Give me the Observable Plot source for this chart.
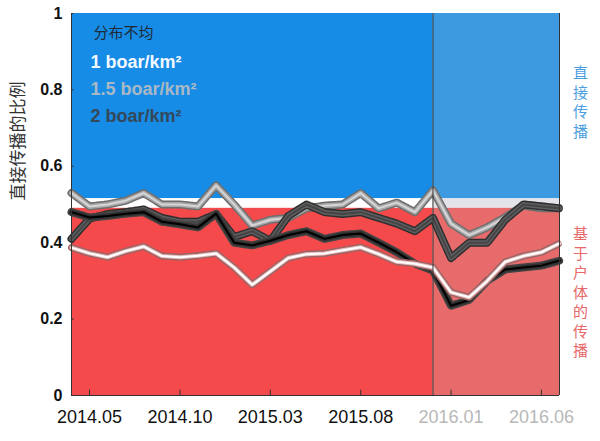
<!DOCTYPE html>
<html>
<head>
<meta charset="utf-8">
<script src="https://cdn.jsdelivr.net/npm/d3@7"></script>
<script src="https://cdn.jsdelivr.net/npm/@observablehq/plot@0.6"></script>
<style>
  html, body { margin: 0; padding: 0; background: #fff; }
  #chart { width: 600px; height: 441px; }
</style>
</head>
<body>
<div id="chart"></div>
<script>
// ---- data ----
const months = ["2014.04","2014.05","2014.06","2014.07","2014.08","2014.09","2014.10","2014.11","2014.12",
  "2015.01","2015.02","2015.03","2015.04","2015.05","2015.06","2015.07","2015.08","2015.09","2015.10","2015.11","2015.12",
  "2016.01","2016.02","2016.03","2016.04","2016.05","2016.06","2016.07"];
const xTickMonths = ["2014.05","2014.10","2015.03","2015.08","2016.01","2016.06"];
const yTicks = [0, 0.2, 0.4, 0.6, 0.8, 1];
const splitMonth = "2015.12";
const bandLow = 0.49;   // red / white boundary
const bandHigh = 0.515; // white / blue boundary

// 1 boar/km2 (white)
const lineWhite = [0.387,0.372,0.362,0.378,0.390,0.365,0.362,0.366,0.372,0.335,0.290,0.325,0.360,0.370,
  0.372,0.380,0.388,0.370,0.350,0.345,0.335,0.270,0.257,0.300,0.350,0.365,0.375,0.398];
// 1.5 boar/km2 (light grey)
const lineLightGray = [0.530,0.495,0.500,0.510,0.530,0.500,0.500,0.495,0.550,0.500,0.445,0.460,0.465,0.490,
  0.497,0.500,0.530,0.490,0.505,0.480,0.537,0.450,0.420,0.440,0.467,0.497,0.490,0.490];
// 2 boar/km2 (dark grey)
const lineDarkGray = [0.410,0.463,0.475,0.480,0.487,0.465,0.455,0.455,0.475,0.415,0.430,0.405,0.470,0.500,
  0.480,0.475,0.480,0.465,0.450,0.430,0.465,0.360,0.400,0.400,0.460,0.500,0.495,0.490];
// 2 boar/km2 (black)
const lineBlack = [0.480,0.466,0.470,0.476,0.480,0.455,0.448,0.440,0.476,0.400,0.393,0.405,0.420,0.430,
  0.410,0.420,0.424,0.400,0.375,0.345,0.327,0.235,0.250,0.300,0.330,0.335,0.340,0.353];

const legendTitle = "分布不均";
const legendLabels = ["1 boar/km²", "1.5 boar/km²", "2 boar/km²"];
const yLabel = "直接传播的比例";
const rightTop = "直接传播";
const rightBottom = "基于户体的传播";

// ---- helpers ----
const mi = m => months.indexOf(m);
const last = months.length - 1;
const split = mi(splitMonth);
const rows = vals => vals.map((v, i) => ({i, v}));

function band(vals, edge, fill, core, w) {
  const r = rows(vals);
  return [
    Plot.line(r, {x: "i", y: "v", stroke: edge, strokeWidth: w + 3, strokeDasharray: "1,1.4", strokeLinejoin: "round"}),
    Plot.line(r, {x: "i", y: "v", stroke: fill, strokeWidth: w, strokeLinejoin: "round", strokeOpacity: 0.85}),
    Plot.line(r, {x: "i", y: "v", stroke: core, strokeWidth: 2, strokeLinejoin: "round"})
  ];
}

const font = "Liberation Sans, Arial, sans-serif";
const cjk = "Noto Sans CJK SC, sans-serif";

const chart = Plot.plot({
  width: 600,
  height: 441,
  marginLeft: 71,
  marginRight: 41,
  marginTop: 13,
  marginBottom: 46,
  style: {fontFamily: font, background: "#fff", overflow: "visible"},
  x: {domain: [0, last]},
  y: {domain: [0, 1]},
  marks: [
    // background zones, left period
    Plot.rect([0], {x1: 0, x2: split, y1: bandHigh, y2: 1, fill: "#168ce6"}),
    Plot.rect([0], {x1: 0, x2: split, y1: bandLow, y2: bandHigh, fill: "#ffffff"}),
    Plot.rect([0], {x1: 0, x2: split, y1: 0, y2: bandLow, fill: "#f54a4b"}),
    // right period
    Plot.rect([0], {x1: split, x2: last, y1: bandHigh, y2: 1, fill: "#3d9ae0"}),
    Plot.rect([0], {x1: split, x2: last, y1: bandLow, y2: bandHigh, fill: "#e3e3e9"}),
    Plot.rect([0], {x1: split, x2: last, y1: 0, y2: bandLow, fill: "#e86b6c"}),
    // lines
    ...band(lineLightGray, "#6e6e6e", "#b2b2b4", "#d6d6d6", 5),
    ...band(lineDarkGray, "#2e2e2e", "#66666a", "#454545", 5),
    ...band(lineBlack, "#444", "#2c2c2c", "#000", 5),
    ...band(lineWhite, "#9c6464", "#f2cccc", "#ffffff", 4),
    // divider and frame
    Plot.ruleX([split], {stroke: "#333", strokeWidth: 1}),
    Plot.ruleX([0, last], {stroke: "#333", strokeWidth: 1}),
    Plot.ruleY([0], {stroke: "#333", strokeWidth: 1}),
    // inside tick marks
    Plot.ruleX(xTickMonths.map(mi), {x: d => d, y1: 0, y2: 0.014, stroke: "#333"}),
    Plot.ruleY(yTicks, {y: d => d, x1: 0, x2: 0.15, stroke: "#333"}),
    // axes
    Plot.axisY({ticks: yTicks, tickFormat: d => String(d), tickSize: 0, tickPadding: 9,
      fontSize: 16, fontWeight: "bold", fill: "#111", label: null}),
    Plot.axisX({ticks: xTickMonths.slice(0, 4).map(mi), tickFormat: d => months[d], tickSize: 0, tickPadding: 15,
      fontSize: 18, fill: "#111", label: null}),
    Plot.axisX({ticks: xTickMonths.slice(4).map(mi), tickFormat: d => months[d], tickSize: 0, tickPadding: 15,
      fontSize: 18, fill: "#b8b8b8", label: null}),
    // y label
    Plot.text([yLabel], {frameAnchor: "left", dx: -53, dy: -4, rotate: -90, fontSize: 17,
      fontFamily: cjk, fill: "#333"}),
    // legend
    Plot.text([legendTitle], {frameAnchor: "top-left", dx: 22, dy: 20, textAnchor: "start", lineAnchor: "middle",
      fontSize: 15, fontFamily: cjk, fill: "#1e2a36"}),
    Plot.text([legendLabels[0]], {frameAnchor: "top-left", dx: 19, dy: 49, textAnchor: "start", lineAnchor: "middle",
      fontSize: 18, fontWeight: "bold", fill: "#f2f8ff"}),
    Plot.text([legendLabels[1]], {frameAnchor: "top-left", dx: 19, dy: 76, textAnchor: "start", lineAnchor: "middle",
      fontSize: 18, fontWeight: "bold", fill: "#a9b8c6"}),
    Plot.text([legendLabels[2]], {frameAnchor: "top-left", dx: 19, dy: 103, textAnchor: "start", lineAnchor: "middle",
      fontSize: 18, fontWeight: "bold", fill: "#34485a"}),
    // right side vertical labels
    Plot.text([rightTop.split("").join("\n")], {x: last, y: 0.77, dx: 21, lineAnchor: "middle", lineHeight: 1.3,
      fontSize: 15, fontFamily: cjk, fill: "#4a9ee0"}),
    Plot.text([rightBottom.split("").join("\n")], {x: last, y: 0.272, dx: 21, lineAnchor: "middle", lineHeight: 1.3,
      fontSize: 15, fontFamily: cjk, fill: "#e8686a"})
  ]
});
document.getElementById("chart").appendChild(chart);
</script>
</body>
</html>
